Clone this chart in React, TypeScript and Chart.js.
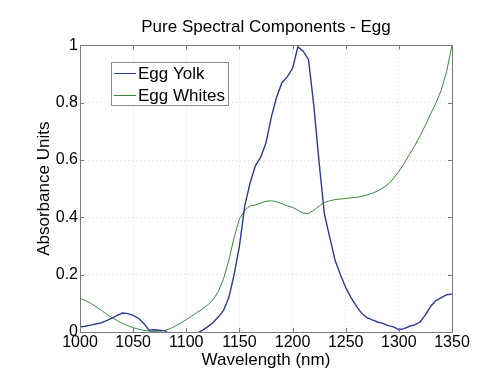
import React, { useEffect, useRef } from "react";
import { Chart, registerables } from "chart.js";

Chart.register(...registerables);

const wavelengths = [
  1000, 1005, 1010, 1015, 1020, 1025, 1030, 1035, 1040, 1045,
  1050, 1055, 1060, 1065, 1070, 1075, 1080, 1085, 1090, 1095,
  1100, 1105, 1110, 1115, 1120, 1125, 1130, 1135, 1140, 1145,
  1150, 1155, 1160, 1165, 1170, 1175, 1180, 1185, 1190, 1195,
  1200, 1205, 1210, 1215, 1220, 1225, 1230, 1235, 1240, 1245,
  1250, 1255, 1260, 1265, 1270, 1275, 1280, 1285, 1290, 1295,
  1300, 1305, 1310, 1315, 1320, 1325, 1330, 1335, 1340, 1345,
  1350,
];

const eggYolk = [
  0.018, 0.020, 0.024, 0.028, 0.032, 0.040, 0.048, 0.058, 0.066, 0.064,
  0.058, 0.048, 0.030, 0.006, 0.008, 0.006, 0.004, -0.01, -0.02, -0.02,
  -0.02, -0.015, -0.005, 0.006, 0.018, 0.032, 0.052, 0.075, 0.12, 0.20,
  0.30, 0.44, 0.52, 0.58, 0.61, 0.66, 0.75, 0.82, 0.87, 0.89,
  0.92, 0.995, 0.98, 0.95, 0.79, 0.59, 0.41, 0.33, 0.25, 0.20,
  0.155, 0.12, 0.09, 0.065, 0.05, 0.042, 0.035, 0.03, 0.022, 0.018,
  0.008, 0.012, 0.02, 0.025, 0.035, 0.06, 0.09, 0.11, 0.12, 0.13,
  0.132,
];

const eggWhites = [
  0.118, 0.11, 0.10, 0.088, 0.076, 0.062, 0.050, 0.040, 0.030, 0.022,
  0.015, 0.010, 0.006, 0.003, 0.002, 0.003, 0.006, 0.012, 0.022, 0.032,
  0.043, 0.055, 0.068, 0.080, 0.094, 0.112, 0.140, 0.185, 0.250, 0.330,
  0.395, 0.425, 0.440, 0.443, 0.450, 0.456, 0.458, 0.454, 0.448, 0.440,
  0.435, 0.425, 0.415, 0.413, 0.425, 0.440, 0.452, 0.458, 0.462, 0.464,
  0.466, 0.468, 0.470, 0.473, 0.478, 0.484, 0.492, 0.503, 0.516, 0.536,
  0.560, 0.588, 0.620, 0.650, 0.685, 0.722, 0.762, 0.800, 0.845, 0.910,
  1.0,
];

const seriesLabels = ["Egg Yolk", "Egg Whites"];
const seriesColors = ["#2b3a94", "#3a8a3a"];
const xTicks = [1000, 1050, 1100, 1150, 1200, 1250, 1300, 1350];
const yTicks = [0, 0.2, 0.4, 0.6, 0.8, 1];

const FONT = "'Liberation Sans', Arial, Helvetica, sans-serif";

const framePlugin = {
  id: "frameTicksLegend",
  afterDraw(chart: any) {
    const { ctx, chartArea } = chart;
    const { left, right, top, bottom } = chartArea;
    const xs = chart.scales.x;
    const ys = chart.scales.y;
    ctx.save();
    ctx.strokeStyle = "#7a7a7a";
    ctx.lineWidth = 1;
    ctx.beginPath();
    const tl = 4;
    xTicks.forEach((v) => {
      const px = Math.round(xs.getPixelForValue(v)) + 0.5;
      ctx.moveTo(px, bottom);
      ctx.lineTo(px, bottom - tl);
      ctx.moveTo(px, top);
      ctx.lineTo(px, top + tl);
    });
    yTicks.forEach((v) => {
      const py = Math.round(ys.getPixelForValue(v)) + 0.5;
      ctx.moveTo(left, py);
      ctx.lineTo(left + tl, py);
      ctx.moveTo(right, py);
      ctx.lineTo(right - tl, py);
    });
    ctx.stroke();
    ctx.strokeRect(
      Math.round(left) + 0.5,
      Math.round(top) + 0.5,
      Math.round(right - left),
      Math.round(bottom - top)
    );

    // legend
    const lx = 111, ly = 62, lw = 117, lh = 43;
    ctx.fillStyle = "#ffffff";
    ctx.fillRect(lx, ly, lw, lh);
    ctx.strokeStyle = "#8a8a8a";
    ctx.strokeRect(lx + 0.5, ly + 0.5, lw, lh);
    ctx.font = `17px ${FONT}`;
    ctx.textBaseline = "middle";
    ctx.textAlign = "left";
    chart.data.datasets.forEach((ds: any, i: number) => {
      const cy = ly + 11 + i * 22;
      ctx.strokeStyle = ds.borderColor;
      ctx.lineWidth = 1;
      ctx.beginPath();
      ctx.moveTo(lx + 3, cy + 0.5);
      ctx.lineTo(lx + 25, cy + 0.5);
      ctx.stroke();
      ctx.fillStyle = "#000";
      ctx.fillText(ds.label, lx + 27, cy + 1);
    });
    ctx.restore();
  },
};

export default function App() {
  const ref = useRef<HTMLCanvasElement | null>(null);
  useEffect(() => {
    document.body.style.margin = "0";
    const canvas = ref.current;
    if (!canvas) return;
    const chart = new Chart(canvas, {
      type: "line",
      data: {
        datasets: [
          {
            label: seriesLabels[0],
            data: wavelengths.map((w, i) => ({ x: w, y: eggYolk[i] })),
            borderColor: seriesColors[0],
            borderWidth: 1.4,
            pointRadius: 0,
            tension: 0,
          },
          {
            label: seriesLabels[1],
            data: wavelengths.map((w, i) => ({ x: w, y: eggWhites[i] })),
            borderColor: seriesColors[1],
            borderWidth: 1,
            pointRadius: 0,
            tension: 0,
          },
        ],
      },
      options: {
        responsive: false,
        animation: false,
        layout: { padding: { left: 0, right: 38, top: 0, bottom: 0 } },
        plugins: {
          legend: { display: false },
          tooltip: { enabled: false },
          title: {
            display: true,
            text: "Pure Spectral Components - Egg",
            fullSize: false,
            color: "#000",
            font: { family: FONT, size: 17, weight: "normal" },
            padding: { top: 17, bottom: 8 },
          },
        },
        scales: {
          x: {
            type: "linear",
            min: 1000,
            max: 1350,
            afterBuildTicks: (s: any) => {
              s.ticks = xTicks.map((v) => ({ value: v }));
            },
            afterFit: (s: any) => {
              s.height = 56;
            },
            ticks: {
              color: "#000",
              font: { family: FONT, size: 16 },
              padding: 1,
              maxRotation: 0,
              autoSkip: false,
              callback: (v: any) => String(v),
            },
            grid: { color: "#dcdcdc", drawTicks: false },
            border: { display: false, dash: [1, 3] },
            title: {
              display: true,
              text: "Wavelength (nm)",
              color: "#000",
              font: { family: FONT, size: 17 },
              padding: { top: 4, bottom: 17 },
            },
          },
          y: {
            type: "linear",
            min: 0,
            max: 1,
            afterBuildTicks: (s: any) => {
              s.ticks = yTicks.map((v) => ({ value: v }));
            },
            afterFit: (s: any) => {
              s.width = 80;
            },
            ticks: {
              color: "#000",
              font: { family: FONT, size: 16 },
              padding: 2,
              callback: (v: any) => String(Number(v)),
            },
            grid: { color: "#dcdcdc", drawTicks: false },
            border: { display: false, dash: [1, 3] },
            title: {
              display: true,
              text: "Absorbance Units",
              color: "#000",
              font: { family: FONT, size: 17 },
              padding: { top: 34, bottom: 4 },
            },
          },
        },
      },
      plugins: [framePlugin],
    });
    return () => chart.destroy();
  }, []);
  return (
    <div style={{ width: 490, height: 388 }}>
      <canvas ref={ref} width={490} height={388} />
    </div>
  );
}
